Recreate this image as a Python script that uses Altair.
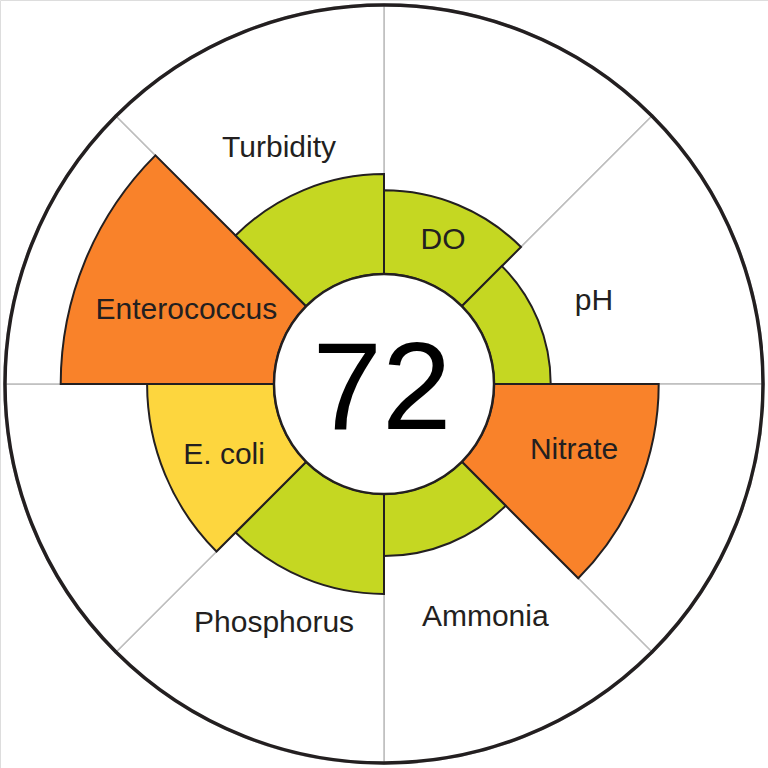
import math
import altair as alt
import pandas as pd

# ---- data ----
indicators = ["DO", "pH", "Nitrate", "Ammonia", "Phosphorus", "E. coli", "Enterococcus", "Turbidity"]
scores = [31, 21, 61, 23, 37, 47, 79, 37]
grades = ["good", "good", "poor", "good", "good", "fair", "poor", "good"]
overall_score = [72]

# ---- layout (label placement: radius in score units, angular shift in slice units) ----
label_radius = [17.4, 43.1, 33.7, 53.0, 56.2, 23.9, 37.6, 55.4]
label_shift = [-0.009, 0.013, -0.078, -0.024, 0.052, -0.024, -0.036, -0.030]

W = H = 768
R_IN, R_OUT = 110, 380

df = pd.DataFrame({
    "indicator": indicators,
    "score": scores,
    "grade": grades,
    "order": list(range(len(indicators))),
    "slice": [1] * len(indicators),
    "label_r": label_radius,
    "label_shift": label_shift,
})
center_df = pd.DataFrame({"score": overall_score})

tscale = alt.Scale(domain=[0, len(indicators)], range=[0, 2 * math.pi])
rscale = alt.Scale(type="linear", domain=[0, 100], range=[R_IN, R_OUT])

base = alt.Chart(df).transform_window(
    t_end="sum(slice)", sort=[alt.SortField("order")], frame=[None, 0]
).transform_calculate(
    t_start="datum.t_end - datum.slice",
    t_mid="datum.t_end - datum.slice / 2 + datum.label_shift",
)

background = base.mark_arc(fill="white", stroke="#BDBDBD", strokeWidth=1.5).encode(
    theta=alt.Theta("t_start:Q", scale=tscale),
    theta2="t_end:Q",
    radius=alt.value(R_OUT),
)

sectors = base.mark_arc(stroke="#231F20", strokeWidth=2, strokeJoin="miter").encode(
    theta=alt.Theta("t_start:Q", scale=tscale),
    theta2="t_end:Q",
    radius=alt.Radius("score:Q", scale=rscale),
    color=alt.Color(
        "grade:N",
        scale=alt.Scale(domain=["good", "fair", "poor"], range=["#C5D722", "#FDD63E", "#F9822A"]),
        legend=None,
    ),
)

outer = alt.Chart(center_df).mark_arc(
    theta=0, theta2=2 * math.pi, radius=R_OUT - 1, fillOpacity=0, stroke="#231F20", strokeWidth=3.5
).encode(color=alt.value("white"))

inner = alt.Chart(center_df).mark_arc(
    theta=0, theta2=2 * math.pi, radius=R_IN, fill="white", stroke="#231F20", strokeWidth=2.5
).encode(color=alt.value("white"))

labels = base.mark_text(
    font="Liberation Sans", fontSize=30, color="#231F20", align="center", baseline="middle", dy=1
).encode(
    theta=alt.Theta("t_mid:Q", scale=tscale),
    radius=alt.Radius("label_r:Q", scale=rscale),
    text="indicator:N",
)

center_text = alt.Chart(center_df).mark_text(
    font="Liberation Sans", fontSize=125, color="black", align="center", baseline="middle", dy=7, dx=-2
).encode(
    x=alt.value(W / 2), y=alt.value(H / 2), text="score:Q"
)

chart = alt.layer(background, sectors, outer, inner, labels, center_text).properties(
    width=W, height=H, padding=0, autosize=alt.AutoSizeParams(type="none")
).configure_view(stroke=None).configure(background="white")

chart.save("out.html", embed_options={"renderer": "svg", "actions": False})
